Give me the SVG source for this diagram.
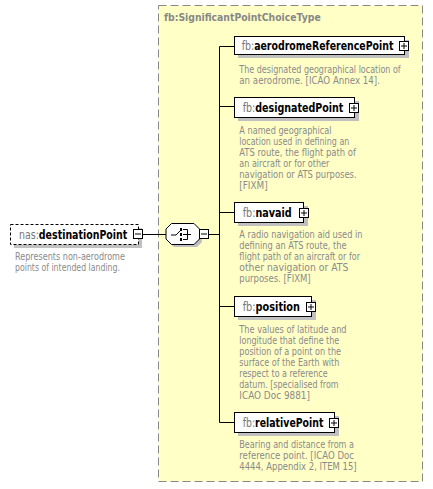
<svg xmlns="http://www.w3.org/2000/svg" width="433" height="489" viewBox="0 0 433 489">
<style>
.nm{font-family:"DejaVu Sans Condensed","DejaVu Sans",sans-serif;font-size:11.5px;font-weight:bold;fill:#000}
.ns{font-weight:normal;fill:#777}
.ds{font-family:"DejaVu Sans Condensed","DejaVu Sans",sans-serif;font-size:10px;fill:#8a8a8a}
.box{fill:#fff;stroke:#000;stroke-width:1}
.sh{fill:#c0c0c0}
.ic{fill:#fff;stroke:#000;stroke-width:1}
.ln{stroke:#000;stroke-width:1;fill:none}
</style>
<rect x="158.5" y="5.5" width="264" height="476" fill="#ffffc6" stroke="#888" stroke-dasharray="8,4"/>
<text x="164" y="21" font-family="DejaVu Sans Condensed,DejaVu Sans,sans-serif" font-size="11" font-weight="bold" fill="#888" textLength="156.7" lengthAdjust="spacingAndGlyphs">fb:SignificantPointChoiceType</text>
<g id="connectors">
<line class="ln" x1="143" y1="234.5" x2="166" y2="234.5"/>
<line class="ln" x1="209" y1="234.5" x2="219.5" y2="234.5"/>
<polyline class="ln" points="234,46.5 219.5,46.5 219.5,422.5 234,422.5"/>
<line class="ln" x1="219.5" y1="106.5" x2="234" y2="106.5"/>
<line class="ln" x1="219.5" y1="212.5" x2="234" y2="212.5"/>
<line class="ln" x1="219.5" y1="306.5" x2="234" y2="306.5"/>
</g>
<g id="destinationPoint">
<rect class="sh" x="14" y="228" width="128" height="20"/>
<rect x="10.5" y="224.5" width="128" height="20" fill="#fff" stroke="#000" stroke-dasharray="3,2"/>
<text class="nm" x="19" y="239" textLength="108.3" lengthAdjust="spacingAndGlyphs"><tspan class="ns">nas:</tspan>destinationPoint</text>
<rect class="ic" x="133.5" y="229.5" width="9" height="9"/>
<line class="ln" x1="135" y1="234" x2="141" y2="234"/>
<text class="ds" x="15" y="260" textLength="110" lengthAdjust="spacingAndGlyphs">Represents non-aerodrome</text>
<text class="ds" x="15" y="271" textLength="105" lengthAdjust="spacingAndGlyphs">points of intended landing.</text>
</g>
<g id="choice">
<path class="sh" d="M174,227 H197 L202,232 V242 L197,247 H174 L169,242 V232 Z"/>
<path d="M171.5,223.5 H194 L199.5,229 V239 L194,244.5 H171.5 L166,239 V229 Z" fill="#fff" stroke="#000"/>
<line class="ln" x1="171" y1="235" x2="176" y2="235"/>
<line class="ln" x1="176" y1="235" x2="181" y2="230"/>
<rect x="180" y="228" width="2" height="3" fill="#000"/>
<rect x="180" y="233" width="2" height="3" fill="#000"/>
<rect x="180" y="238" width="2" height="3" fill="#000"/>
<polyline class="ln" points="183,229.5 187.5,229.5 187.5,239.5 183,239.5"/>
<line class="ln" x1="183" y1="234.5" x2="191" y2="234.5"/>
<rect class="ic" x="199.5" y="229.5" width="9" height="9"/>
<line class="ln" x1="201" y1="234" x2="207" y2="234"/>
</g>
<g id="aerodromeReferencePoint">
<rect class="sh" x="238" y="40" width="171" height="18"/>
<rect class="box" x="234.5" y="36.5" width="170" height="18"/>
<text class="nm" x="241.7" y="50" textLength="151.7" lengthAdjust="spacingAndGlyphs"><tspan class="ns">fb:</tspan>aerodromeReferencePoint</text>
<rect class="ic" x="399.5" y="41.5" width="9" height="9"/>
<path class="ln" d="M401,46 H407 M404,43 V49"/>
<text class="ds" x="239.3" y="73" textLength="161.4" lengthAdjust="spacingAndGlyphs">The designated geographical location of</text>
<text class="ds" x="239.3" y="84" textLength="140.7" lengthAdjust="spacingAndGlyphs">an aerodrome. [ICAO Annex 14].</text>
</g>
<g id="designatedPoint">
<rect class="sh" x="238" y="101" width="121" height="20"/>
<rect class="box" x="234.5" y="97.5" width="120" height="20"/>
<text class="nm" x="242.7" y="111.5" textLength="100.7" lengthAdjust="spacingAndGlyphs"><tspan class="ns">fb:</tspan>designatedPoint</text>
<rect class="ic" x="349.5" y="103.5" width="9" height="9"/>
<path class="ln" d="M351,108 H357 M354,105 V111"/>
<text class="ds" x="239.3" y="134" textLength="92.3" lengthAdjust="spacingAndGlyphs">A named geographical</text>
<text class="ds" x="239.3" y="145" textLength="110" lengthAdjust="spacingAndGlyphs">location used in defining an</text>
<text class="ds" x="239.3" y="156" textLength="116.7" lengthAdjust="spacingAndGlyphs">ATS route, the flight path of</text>
<text class="ds" x="239.3" y="167" textLength="90" lengthAdjust="spacingAndGlyphs">an aircraft or for other</text>
<text class="ds" x="239.3" y="178" textLength="117.3" lengthAdjust="spacingAndGlyphs">navigation or ATS purposes.</text>
<text class="ds" x="239.3" y="189" textLength="28.3" lengthAdjust="spacingAndGlyphs">[FIXM]</text>
</g>
<g id="navaid">
<rect class="sh" x="238" y="206" width="70" height="20"/>
<rect class="box" x="234.5" y="202.5" width="69" height="20"/>
<text class="nm" x="242.7" y="217" textLength="49" lengthAdjust="spacingAndGlyphs"><tspan class="ns">fb:</tspan>navaid</text>
<rect class="ic" x="299.5" y="208.5" width="9" height="9"/>
<path class="ln" d="M301,213 H307 M304,210 V216"/>
<text class="ds" x="239.3" y="238" textLength="123.3" lengthAdjust="spacingAndGlyphs">A radio navigation aid used in</text>
<text class="ds" x="239.3" y="249" textLength="107.3" lengthAdjust="spacingAndGlyphs">defining an ATS route, the</text>
<text class="ds" x="239.3" y="260" textLength="120.7" lengthAdjust="spacingAndGlyphs">flight path of an aircraft or for</text>
<text class="ds" x="239.3" y="271" textLength="109" lengthAdjust="spacingAndGlyphs">other navigation or ATS</text>
<text class="ds" x="239.3" y="282" textLength="71.3" lengthAdjust="spacingAndGlyphs">purposes. [FIXM]</text>
</g>
<g id="position">
<rect class="sh" x="238" y="300" width="78" height="20"/>
<rect class="box" x="234.5" y="296.5" width="77" height="20"/>
<text class="nm" x="242.7" y="311" textLength="57.3" lengthAdjust="spacingAndGlyphs"><tspan class="ns">fb:</tspan>position</text>
<rect class="ic" x="306.5" y="302.5" width="9" height="9"/>
<path class="ln" d="M308,307 H314 M311,304 V310"/>
<text class="ds" x="239.3" y="333" textLength="107.3" lengthAdjust="spacingAndGlyphs">The values of latitude and</text>
<text class="ds" x="239.3" y="344" textLength="100" lengthAdjust="spacingAndGlyphs">longitude that define the</text>
<text class="ds" x="239.3" y="355" textLength="101.7" lengthAdjust="spacingAndGlyphs">position of a point on the</text>
<text class="ds" x="239.3" y="366" textLength="100" lengthAdjust="spacingAndGlyphs">surface of the Earth with</text>
<text class="ds" x="239.3" y="377" textLength="88.3" lengthAdjust="spacingAndGlyphs">respect to a reference</text>
<text class="ds" x="239.3" y="388" textLength="99.3" lengthAdjust="spacingAndGlyphs">datum. [specialised from</text>
<text class="ds" x="239.3" y="399" textLength="70.7" lengthAdjust="spacingAndGlyphs">ICAO Doc 9881]</text>
</g>
<g id="relativePoint">
<rect class="sh" x="238" y="416" width="101" height="20"/>
<rect class="box" x="234.5" y="412.5" width="100" height="20"/>
<text class="nm" x="242.7" y="427" textLength="80.7" lengthAdjust="spacingAndGlyphs"><tspan class="ns">fb:</tspan>relativePoint</text>
<rect class="ic" x="329.5" y="418.5" width="9" height="9"/>
<path class="ln" d="M331,423 H337 M334,420 V426"/>
<text class="ds" x="239.3" y="448" textLength="114.7" lengthAdjust="spacingAndGlyphs">Bearing and distance from a</text>
<text class="ds" x="239.3" y="459" textLength="114.7" lengthAdjust="spacingAndGlyphs">reference point. [ICAO Doc</text>
<text class="ds" x="239.3" y="470" textLength="117.3" lengthAdjust="spacingAndGlyphs">4444, Appendix 2, ITEM 15]</text>
</g>
</svg>
